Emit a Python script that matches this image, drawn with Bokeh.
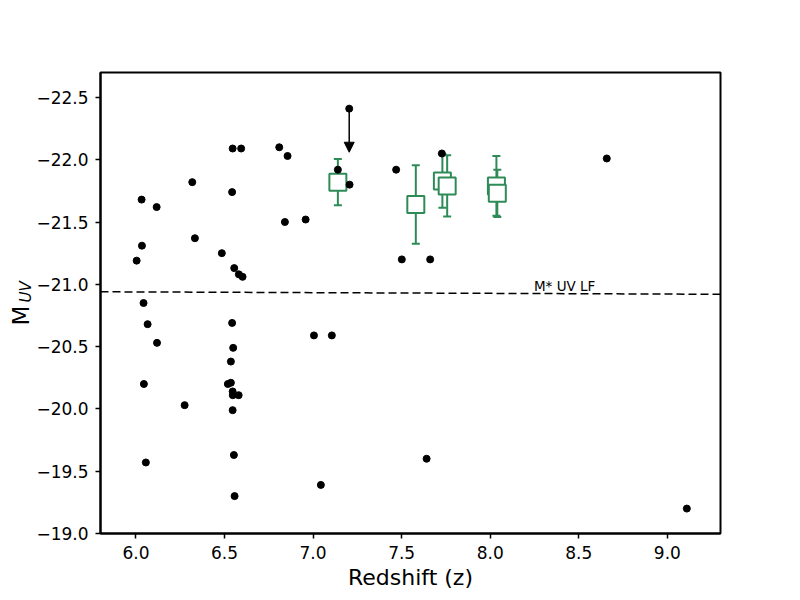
import math
from bokeh.plotting import figure
from bokeh.models import (Range1d, FixedTicker, Whisker, TeeHead, ColumnDataSource,
                          Arrow, NormalHead, Label, Title, NumeralTickFormatter)
from bokeh.embed import file_html
from bokeh.resources import INLINE

# ---- data ----
dot_z = [6.004, 6.032, 6.034, 6.043, 6.066, 6.119, 6.045, 6.056, 6.117, 6.318,
         6.333, 6.275, 6.485, 6.546, 6.594, 6.809, 6.856, 6.543, 6.841, 6.958,
         6.555, 6.581, 6.602, 6.543, 6.549, 6.536, 6.519, 6.536, 6.546, 6.547,
         6.580, 6.546, 6.553, 6.557, 7.005, 7.106, 7.044, 7.140, 7.206, 7.469,
         7.727, 7.501, 7.661, 7.641, 9.110, 8.658]
dot_m = [-21.19, -21.68, -21.31, -20.85, -20.68, -20.53, -20.20, -19.57, -21.62, -21.82,
         -21.37, -20.03, -21.25, -22.09, -22.09, -22.10, -22.03, -21.74, -21.50, -21.52,
         -21.13, -21.08, -21.06, -20.69, -20.49, -20.38, -20.20, -20.21, -20.14, -20.11,
         -20.11, -19.99, -19.63, -19.30, -20.59, -20.59, -19.39, -21.92, -21.80, -21.92,
         -22.05, -21.20, -21.20, -19.60, -19.20, -22.01]

limit_z = [7.204]
limit_m = [-22.41]
limit_m_end = [-22.06]

green_z = [7.14, 7.58, 7.73, 7.757, 8.035, 8.04]
green_m = [-21.82, -21.64, -21.83, -21.79, -21.79, -21.73]
green_err = [0.185, 0.315, 0.215, 0.245, 0.24, 0.19]

mstar_z = [5.8, 9.3]
mstar_m = [-20.94, -20.92]
mstar_label = "M* UV LF"

x_ticks = [6.0, 6.5, 7.0, 7.5, 8.0, 8.5, 9.0]
y_ticks = [-22.5, -22.0, -21.5, -21.0, -20.5, -20.0, -19.5, -19.0]

GREEN = "#2e8b57"
FONT = "DejaVu Sans"

p = figure(width=800, height=600, output_backend="svg", toolbar_location=None,
           x_range=Range1d(5.8, 9.3), y_range=Range1d(-19.0, -22.7),
           min_border_left=100, min_border_right=80, min_border_top=72, min_border_bottom=67)
p.background_fill_color = "white"
p.border_fill_color = "white"
p.xgrid.visible = False
p.ygrid.visible = False
p.outline_line_color = "black"
p.outline_line_width = 2
p.outline_line_alpha = 1.0

for ax in (p.xaxis[0], p.yaxis[0]):
    ax.axis_line_width = 2
    ax.major_tick_line_width = 1.5
    ax.major_tick_out = 5
    ax.major_tick_in = 0
    ax.minor_tick_line_color = None
    ax.major_label_text_font = FONT
    ax.major_label_text_font_size = "17px"
    ax.major_label_text_color = "black"
    ax.major_label_standoff = 7

p.xaxis.ticker = FixedTicker(ticks=x_ticks)
p.xaxis.formatter = NumeralTickFormatter(format="0.0")
p.xaxis.axis_label = "Redshift (z)"
p.xaxis.axis_label_text_font = FONT
p.xaxis.axis_label_text_font_size = "22px"
p.xaxis.axis_label_text_font_style = "normal"
p.xaxis.axis_label_text_color = "black"
p.xaxis.axis_label_standoff = 3

p.yaxis.ticker = FixedTicker(ticks=y_ticks)
p.yaxis.major_label_overrides = {t: ("\u2212%.1f" % abs(t)) for t in y_ticks}
p.yaxis.axis_label = None

# y axis label: M with subscript UV (as side titles)
p.add_layout(Title(text="UV", text_font=FONT, text_font_size="15px", text_font_style="italic",
                   text_color="black", align="left", offset=231, standoff=-7,
                   vertical_align="top"), "left")
p.add_layout(Title(text="M", text_font=FONT, text_font_size="23px", text_font_style="normal",
                   text_color="black", align="left", offset=208, standoff=-27), "left")

# M* line
p.line(mstar_z, mstar_m, line_color="black", line_width=1.5, line_dash="8 4")
p.add_layout(Label(x=8.247, y=-20.99, text=mstar_label, text_font=FONT,
                   text_font_size="13.5px", text_color="black",
                   text_align="left", text_baseline="alphabetic"))

# green error bars
gsrc = ColumnDataSource(dict(z=green_z, m=green_m,
                             lo=[m - e for m, e in zip(green_m, green_err)],
                             hi=[m + e for m, e in zip(green_m, green_err)]))
p.add_layout(Whisker(source=gsrc, base="z", upper="hi", lower="lo",
                     line_color=GREEN, line_width=2,
                     upper_head=TeeHead(size=8, line_color=GREEN, line_width=2),
                     lower_head=TeeHead(size=8, line_color=GREEN, line_width=2)))
p.scatter("z", "m", source=gsrc, marker="square", size=17, fill_color="white",
          line_color=GREEN, line_width=2)

# black points
p.scatter(dot_z, dot_m, marker="circle", size=7, fill_color="black", line_color="black")
p.scatter(limit_z, limit_m, marker="circle", size=7, fill_color="black", line_color="black")
p.add_layout(Arrow(x_start=limit_z[0], y_start=limit_m[0], x_end=limit_z[0], y_end=limit_m_end[0],
                   line_color="black", line_width=1.5,
                   end=NormalHead(size=10, fill_color="black", line_color="black")))

open("out.html", "w").write(file_html(p, INLINE))
